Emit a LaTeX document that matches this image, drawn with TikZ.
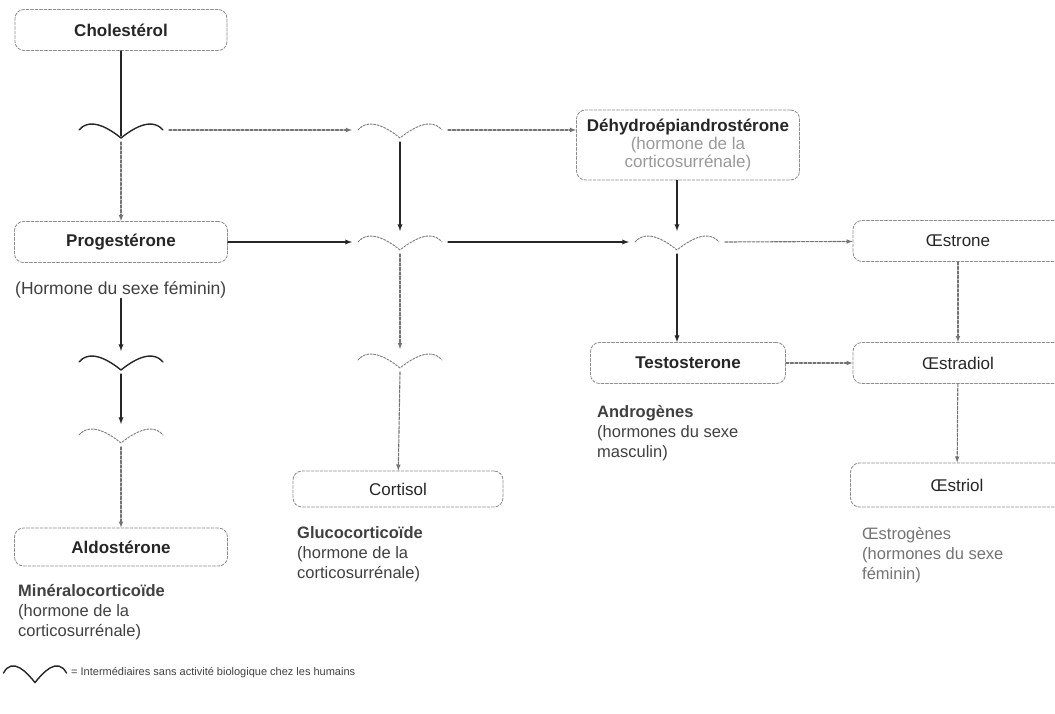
\documentclass[tikz,border=0pt]{standalone}
\usepackage{fontspec}
\setmainfont{Liberation Sans}
\usepackage{xcolor}
\usepackage{tikz}
\usetikzlibrary{arrows.meta,positioning}

\begin{document}
\begin{tikzpicture}[x=1pt, y=-1pt, line cap=round, line join=round,
    hormone/.style={draw=black!45, dash pattern=on 3pt off 1.5pt, line width=0.8pt,
        rounded corners=9pt, minimum height=41pt, text=black!85,
        font=\fontsize{17}{20}\selectfont},
    hormonebf/.style={hormone, font=\fontsize{17}{20}\selectfont\bfseries},
    note/.style={anchor=north west, align=left, inner sep=0pt, text=black!75,
        font=\fontsize{16.5}{20}\selectfont},
    strong/.style={draw=black!85, line width=1.3pt, -latex},
    faint/.style={draw=black!55, line width=1.1pt, dash pattern=on 3pt off 1.5pt, -latex},
    wavestrong/.style={draw=black!85, line width=1.4pt},
    wavefaint/.style={draw=black!50, line width=1pt, dash pattern=on 2pt off 1.5pt},
    intermed/.pic={
        \draw[pic actions] (-42,0) .. controls (-30,-14) and (-10,0) .. (0,8)
                                   .. controls (10,0) and (30,-14) .. (42,0);
        \coordinate (-l) at (-48,0);
        \coordinate (-r) at (48,0);
        \coordinate (-t) at (0,-11);
        \coordinate (-m) at (0,6);
        \coordinate (-b) at (0,12);
    }]

% ---------------------------------------------------------
% Parameters (pixel grid of the page)
% ---------------------------------------------------------
\pgfmathsetmacro{\xA}{121}   % left column
\pgfmathsetmacro{\xB}{400}   % second column
\pgfmathsetmacro{\xC}{677}   % third column
\pgfmathsetmacro{\xD}{958}   % right column
\pgfmathsetmacro{\rA}{130}   % first row of intermediates
\pgfmathsetmacro{\rB}{242}   % progesterone row

\useasboundingbox (0,0) rectangle (1055,714);

% ---------------------------------------------------------
% Hormones
% ---------------------------------------------------------
\node[hormonebf, minimum width=212pt] (chol) at (\xA,30) {Cholestérol};
\node[hormonebf, minimum width=213pt] (prog) at (\xA,\rB) {Progestérone};
\node[hormonebf, minimum width=223pt, minimum height=70pt, align=center,
      font=\fontsize{17}{18}\selectfont\bfseries] (dhea) at (688,145)
    {Déhydroépiandrostérone\\{\mdseries\color{black!40}(hormone de la}\\{\mdseries\color{black!40}corticosurrénale)}};
\node[hormone, minimum width=210pt] (oestrone) at (\xD,241) {Œstrone};
\node[hormonebf, minimum width=195pt] (testo) at (688,363) {Testosterone};
\node[hormone, minimum width=210pt] (oestradiol) at (\xD,363) {Œstradiol};
\node[hormone, minimum width=213pt, minimum height=44pt] (oestriol) at (957,485) {Œstriol};
\node[hormonebf, minimum width=213pt, minimum height=38pt] (aldo) at (\xA,547) {Aldostérone};
\node[hormone, minimum width=210pt, minimum height=36pt] (cortisol) at (398,489) {Cortisol};

% ---------------------------------------------------------
% Notes under the boxes
% ---------------------------------------------------------
\node[note, anchor=west, font=\fontsize{17.5}{20}\selectfont] (progsub) at (15,290) {(Hormone du sexe féminin)};
\node[note] (andro) at (597,405) {\textbf{Androgènes}\\(hormones du sexe\\masculin)};
\node[note] (mineral) at (18,584) {\textbf{Minéralocorticoïde}\\(hormone de la\\corticosurrénale)};
\node[note] (gluco) at (297,526) {\textbf{Glucocorticoïde}\\(hormone de la\\corticosurrénale)};
\node[note, text=black!55] (oestrog) at (862,527) {Œstrogènes\\(hormones du sexe\\féminin)};

% ---------------------------------------------------------
% Intermediates
% ---------------------------------------------------------
\pic[wavestrong] (w1) at (\xA,\rA) {intermed};
\pic[wavefaint]  (w2) at (\xB,\rA) {intermed};
\pic[wavefaint]  (w3) at (\xB,\rB) {intermed};
\pic[wavefaint]  (w4) at (\xC,\rB) {intermed};
\pic[wavestrong] (w5) at (\xA,362) {intermed};
\pic[wavefaint]  (w6) at (\xA,435) {intermed};
\pic[wavefaint]  (w7) at (\xB,360) {intermed};

% ---------------------------------------------------------
% Pathways
% ---------------------------------------------------------
\draw[strong, -] (chol) -- (w1-m);
\draw[faint] (w1-b) -- (prog);
\draw[faint] (w1-r) -- (w2-l);
\draw[faint] (w2-r) -- (w2-r -| dhea.west);
\draw[strong] (w2-b) -- (w3-t);
\draw[strong] (prog) -- (w3-l);
\draw[strong] (w3-r) -- (w4-l);
\draw[strong] (dhea.south -| w4-t) -- (w4-t);
\draw[faint] (w4-r) -- (oestrone);
\draw[strong] (w4-b) -- (w4-b |- testo.north);
\draw[faint] (testo) -- (oestradiol);
\draw[faint] (oestrone) -- (oestradiol);
\draw[faint] (oestradiol) -- (oestriol);
\draw[strong] (progsub.south -| w5-t) -- (w5-t);
\draw[strong] (w5-b) -- (w6-t);
\draw[faint] (w6-b) -- (aldo);
\draw[faint] (w3-b) -- (w7-t);
\draw[faint] (w7-b) -- (cortisol);

% ---------------------------------------------------------
% Legend
% ---------------------------------------------------------
\pic[wavestrong, xscale=0.75, yscale=1.2] (wl) at (35,673) {intermed};
\node[note, anchor=west, font=\fontsize{11}{13}\selectfont] (legend) at (wl-r)
    {= Intermédiaires sans activité biologique chez les humains};

\end{tikzpicture}
\end{document}
